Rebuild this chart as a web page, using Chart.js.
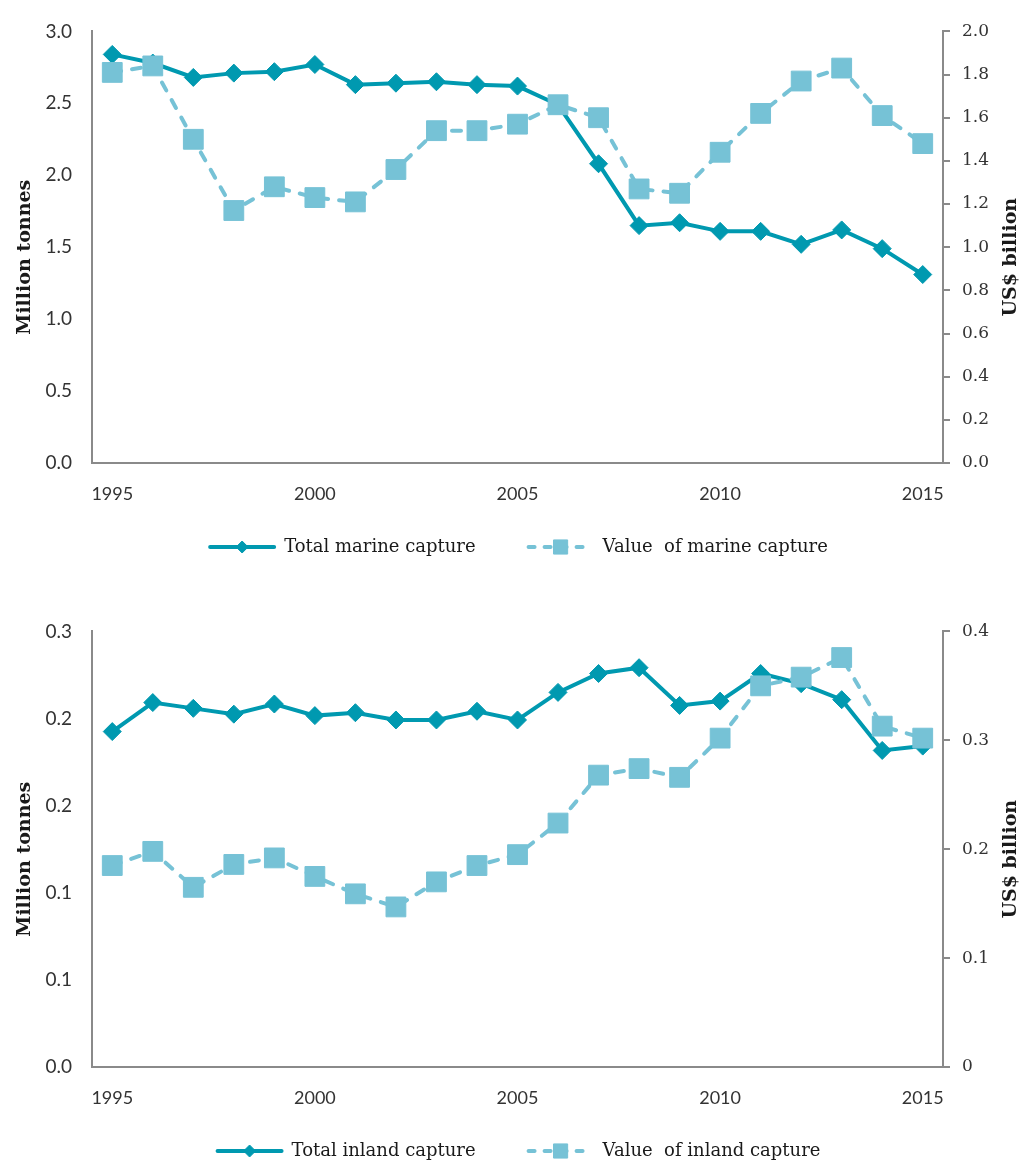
<!DOCTYPE html>
<html>
<head>
<meta charset="utf-8">
<title>Marine and inland capture</title>
<script src="https://cdn.jsdelivr.net/npm/chart.js@4.4.1/dist/chart.umd.min.js"></script>
<style>
  html, body { margin: 0; padding: 0; background: #fff; }
  #wrap { position: relative; width: 1023px; height: 1161px; }
  .box { position: absolute; left: 0; width: 1023px; }
  #topBox { top: 0; height: 600px; }
  #botBox { top: 600px; height: 561px; }
</style>
</head>
<body>
<div id="wrap">
  <div class="box" id="topBox"><canvas id="marineChart"></canvas></div>
  <div class="box" id="botBox"><canvas id="inlandChart"></canvas></div>
</div>
<script>
// years on the x axis
const years = ['1995', '1996', '1997', '1998', '1999', '2000', '2001', '2002', '2003', '2004',
  '2005', '2006', '2007', '2008', '2009', '2010', '2011', '2012', '2013', '2014', '2015'];

// marine capture: million tonnes (left) and US$ billion (right)
const marineTonnes = [2.84, 2.78, 2.68, 2.71, 2.72, 2.77, 2.63, 2.64, 2.65, 2.63,
  2.62, 2.49, 2.08, 1.65, 1.67, 1.61, 1.61, 1.52, 1.62, 1.49, 1.31];
const marineValue = [1.81, 1.84, 1.50, 1.17, 1.28, 1.23, 1.21, 1.36, 1.54, 1.54,
  1.57, 1.66, 1.60, 1.27, 1.25, 1.44, 1.62, 1.77, 1.83, 1.61, 1.48];

// inland capture: million tonnes (left) and US$ billion (right)
const inlandTonnes = [0.231, 0.251, 0.247, 0.243, 0.250, 0.242, 0.244, 0.239, 0.239, 0.245,
  0.239, 0.258, 0.271, 0.275, 0.249, 0.252, 0.271, 0.264, 0.253, 0.218, 0.221];
const inlandValue = [0.185, 0.198, 0.165, 0.186, 0.192, 0.175, 0.159, 0.147, 0.170, 0.185,
  0.195, 0.224, 0.268, 0.274, 0.266, 0.302, 0.350, 0.358, 0.376, 0.313, 0.302];

// tick values and the labels printed for them
const marineLeftTicks = [0, 0.5, 1, 1.5, 2, 2.5, 3];
const marineLeftLabels = ['0.0', '0.5', '1.0', '1.5', '2.0', '2.5', '3.0'];
const marineRightTicks = [0, 0.2, 0.4, 0.6, 0.8, 1, 1.2, 1.4, 1.6, 1.8, 2];
const marineRightLabels = ['0.0', '0.2', '0.4', '0.6', '0.8', '1.0', '1.2', '1.4', '1.6', '1.8', '2.0'];
const inlandLeftTicks = [0, 0.06, 0.12, 0.18, 0.24, 0.3];
const inlandLeftLabels = ['0.0', '0.1', '0.1', '0.2', '0.2', '0.3'];
const inlandRightTicks = [0, 0.1, 0.2, 0.3, 0.4];
const inlandRightLabels = ['0', '0.1', '0.2', '0.3', '0.4'];

const DARK = '#0099b0';
const LIGHT = '#76c2d6';
const AXIS = '#8a8a8a';
const SANS = 'Lato, "Open Sans", sans-serif';
const SERIF = '"DejaVu Serif", "Liberation Serif", serif';

// draws rotated axis titles and the legend under the x axis
const decorPlugin = {
  id: 'decor',
  afterDraw(chart, args, opts) {
    const ctx = chart.ctx;
    const area = chart.chartArea;
    const midY = (area.top + area.bottom) / 2 + opts.titleShift;
    ctx.save();
    ctx.fillStyle = '#1a1a1a';
    ctx.font = 'bold 19px ' + SERIF;
    ctx.textAlign = 'center';
    ctx.textBaseline = 'middle';
    [[opts.leftX, opts.leftTitle], [opts.rightX, opts.rightTitle]].forEach(function (t) {
      ctx.save();
      ctx.translate(t[0], midY);
      ctx.rotate(-Math.PI / 2);
      ctx.fillText(t[1], 0, 0);
      ctx.restore();
    });

    // legend
    const y = area.bottom + opts.legendOffset;
    const sampleW = 70, textGap = 7, itemGap = 50;
    ctx.font = '18px ' + SERIF;
    const items = chart.data.datasets.map(function (ds) {
      return { ds: ds, w: sampleW + textGap + ctx.measureText(ds.label).width };
    });
    const total = items.reduce(function (s, it) { return s + it.w; }, 0) + itemGap * (items.length - 1);
    let x = (area.left + area.right) / 2 - total / 2;
    items.forEach(function (it) {
      const ds = it.ds;
      ctx.save();
      ctx.strokeStyle = ds.borderColor;
      ctx.lineWidth = ds.borderWidth;
      ctx.lineCap = 'round';
      ctx.setLineDash(ds.borderDash ? [6, 10] : []);
      ctx.beginPath();
      ctx.moveTo(x + 3, y);
      ctx.lineTo(x + sampleW - 3, y);
      ctx.stroke();
      ctx.restore();
      ctx.save();
      ctx.fillStyle = ds.pointBackgroundColor;
      ctx.strokeStyle = ds.pointBackgroundColor;
      Chart.helpers.drawPoint(ctx, {
        pointStyle: ds.pointStyle, rotation: 0,
        radius: ds.pointStyle === 'rect' ? 10 : 6, borderWidth: 1
      }, x + sampleW / 2, y);
      ctx.restore();
      ctx.fillStyle = '#1a1a1a';
      ctx.textAlign = 'left';
      ctx.fillText(ds.label, x + sampleW + textGap, y);
      x += it.w + itemGap;
    });
    ctx.restore();
  }
};

function fixTicks(values) {
  return function (scale) {
    scale.ticks = values.map(function (v) { return { value: v }; });
  };
}

function makeChart(canvasId, names, tonnes, value, left, right, layout) {
  const ctx = document.getElementById(canvasId).getContext('2d');
  return new Chart(ctx, {
    type: 'line',
    data: {
      labels: years,
      datasets: [{
        label: names[0],
        data: tonnes,
        yAxisID: 'y',
        borderColor: DARK,
        backgroundColor: DARK,
        pointBackgroundColor: DARK,
        pointBorderColor: DARK,
        borderWidth: 4,
        pointStyle: 'rectRot',
        pointRadius: 9,
        pointBorderWidth: 1,
        tension: 0,
        order: 2
      }, {
        label: names[1],
        data: value,
        yAxisID: 'y1',
        borderColor: LIGHT,
        backgroundColor: LIGHT,
        pointBackgroundColor: LIGHT,
        pointBorderColor: LIGHT,
        borderWidth: 4,
        borderDash: [9, 11],
        borderCapStyle: 'round',
        pointStyle: 'rect',
        pointRadius: 14,
        pointBorderWidth: 1,
        tension: 0,
        order: 1
      }]
    },
    options: {
      responsive: true,
      maintainAspectRatio: false,
      animation: false,
      layout: { padding: { top: layout.top, bottom: layout.bottom, left: 0, right: 0 } },
      scales: {
        x: {
          type: 'category',
          offset: true,
          grid: { display: false, drawTicks: false },
          border: { display: true, color: AXIS, width: 2 },
          ticks: {
            autoSkip: false,
            maxRotation: 0,
            padding: 20,
            color: '#333',
            font: { family: '"Liberation Sans Narrow", ' + SANS, size: 18 },
            callback: function (v, i) { return i % 5 === 0 ? years[i] : ''; }
          },
          afterFit: function (scale) { scale.height = 40; }
        },
        y: {
          position: 'left',
          min: left.ticks[0],
          max: left.ticks[left.ticks.length - 1],
          grid: { display: false, drawTicks: false },
          border: { display: true, color: AXIS, width: 2 },
          afterBuildTicks: fixTicks(left.ticks),
          ticks: {
            padding: 20,
            color: '#333',
            font: { family: SANS, size: 19 },
            callback: function (v, i) { return left.labels[i]; }
          },
          afterFit: function (scale) { scale.width = 92; }
        },
        y1: {
          position: 'right',
          min: right.ticks[0],
          max: right.ticks[right.ticks.length - 1],
          grid: { display: true, drawOnChartArea: false, drawTicks: true, tickLength: 7, color: AXIS, lineWidth: 2 },
          border: { display: true, color: AXIS, width: 2 },
          afterBuildTicks: fixTicks(right.ticks),
          ticks: {
            padding: 12,
            color: '#333',
            font: { family: SERIF, size: 17 },
            callback: function (v, i) { return right.labels[i]; }
          },
          afterFit: function (scale) { scale.width = 80; }
        }
      },
      plugins: {
        legend: { display: false },
        tooltip: { enabled: false },
        decor: {
          leftTitle: 'Million tonnes',
          rightTitle: 'US$ billion',
          leftX: 25,
          rightX: 1011,
          titleShift: 10,
          legendOffset: 84
        }
      }
    },
    plugins: [decorPlugin]
  });
}

makeChart('marineChart', ['Total marine capture', 'Value  of marine capture'],
  marineTonnes, marineValue,
  { ticks: marineLeftTicks, labels: marineLeftLabels },
  { ticks: marineRightTicks, labels: marineRightLabels },
  { top: 28, bottom: 97 });

makeChart('inlandChart', ['Total inland capture', 'Value  of inland capture'],
  inlandTonnes, inlandValue,
  { ticks: inlandLeftTicks, labels: inlandLeftLabels },
  { ticks: inlandRightTicks, labels: inlandRightLabels },
  { top: 31, bottom: 54 });
</script>
</body>
</html>
